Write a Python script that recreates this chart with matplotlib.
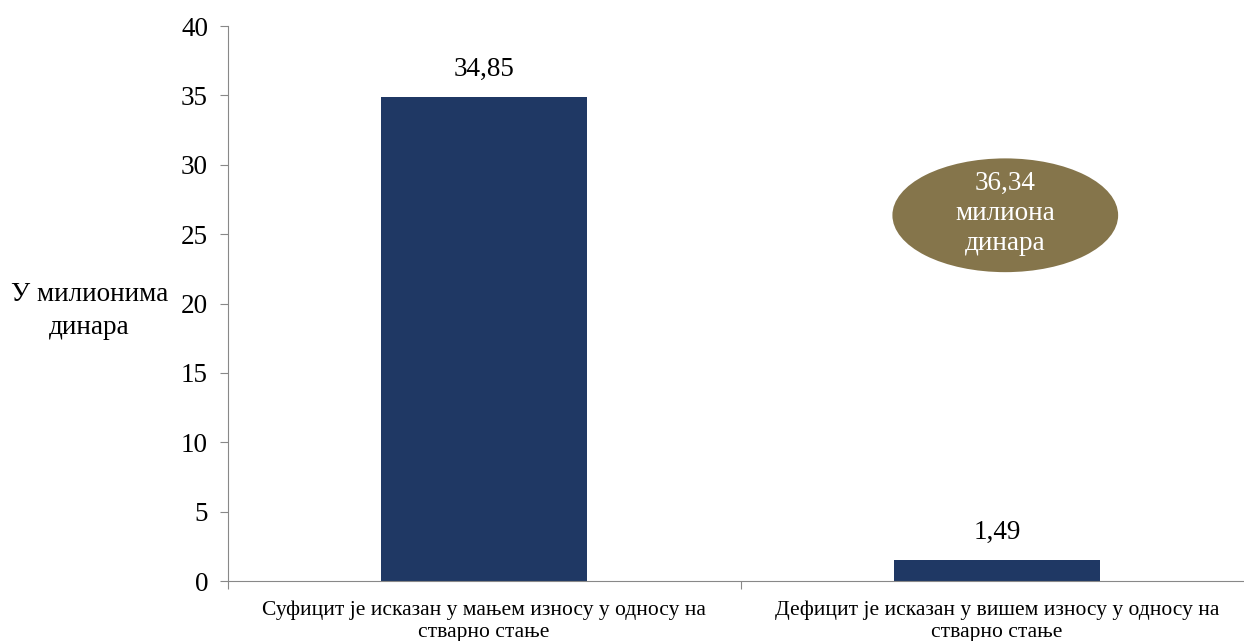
import matplotlib.pyplot as plt
from matplotlib.patches import Ellipse

plt.rcParams['font.family'] = ['Liberation Serif', 'DejaVu Serif']

categories = ["Суфицит је исказан у мањем износу у односу на\nстварно стање",
              "Дефицит је исказан у вишем износу у односу на\nстварно стање"]
values = [34.85, 1.49]
value_labels = ["34,85", "1,49"]
total_label = "36,34\nмилиона\nдинара"

fig = plt.figure(figsize=(12.44, 6.41), dpi=100)
ax = fig.add_axes([0.1829, 0.0936, 0.8248, 0.8658])

x = list(range(len(values)))
ax.bar(x, values, width=0.4, color="#1F3864")
for xi, v, lab in zip(x, values, value_labels):
    ax.text(xi, v + 1.1, lab, ha="center", va="bottom", fontsize=19.5)

ax.set_xlim(-0.5, 1.5)
ax.set_ylim(0, 40)
ax.set_yticks(range(0, 41, 5))
ax.tick_params(axis="y", labelsize=19.5, length=6, color="#888888", pad=8)
ax.set_xticks([-0.5, 0.5, 1.5])
ax.set_xticklabels([])
ax.set_xticks(x, minor=True)
ax.set_xticklabels(categories, minor=True, fontsize=15.5)
ax.tick_params(axis="x", which="major", length=6, color="#888888")
ax.tick_params(axis="x", which="minor", length=0, pad=14)

for s in ["top", "right"]:
    ax.spines[s].set_visible(False)
for s in ["left", "bottom"]:
    ax.spines[s].set_color("#888888")

fig.text(0.072, 0.515, "У милионима\nдинара", ha="center", va="center",
         fontsize=19.5, linespacing=1.4)

ell = Ellipse((0.758, 0.659), 0.22, 0.205, transform=ax.transAxes,
              facecolor="#85754B", edgecolor="none")
ax.add_patch(ell)
ax.text(0.758, 0.662, total_label, transform=ax.transAxes, ha="center",
        va="center", color="white", fontsize=19.5, linespacing=1.25)

fig.savefig("out.png", dpi=100)
